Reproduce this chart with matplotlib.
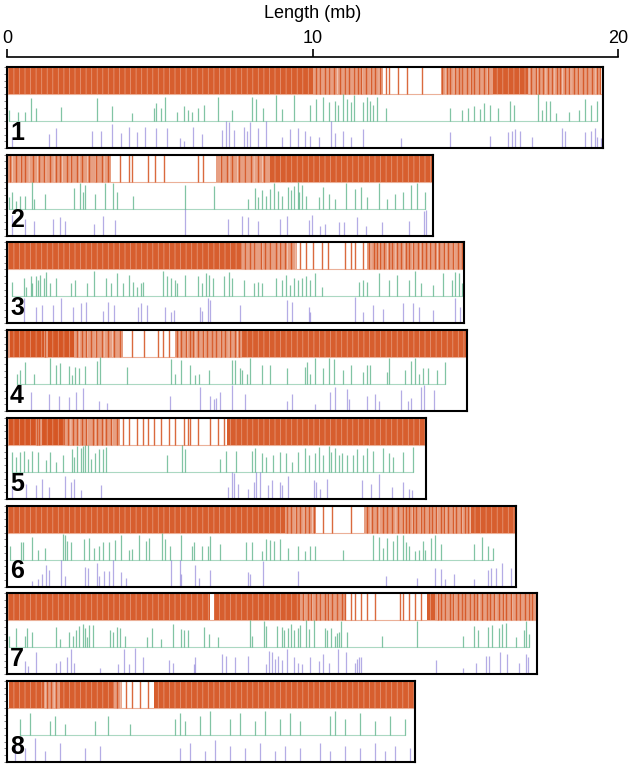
import matplotlib
matplotlib.use('Agg')  # no UI backend

import numpy as np
import matplotlib.pyplot as plt
from matplotlib.colors import to_rgba

plt.rcParams['font.family'] = ['Liberation Sans', 'DejaVu Sans']
plt.rcParams['hatch.linewidth'] = 0.6

chrom_names = ['1', '2', '3', '4', '5', '6', '7', '8']
chrom_lengths = [19.5, 13.95, 14.95, 15.05, 13.7, 16.65, 17.35, 13.35]  # mb

# orange track: dense stretches, lighter stretches (start, end) and single lines, in mb
orange_dense_1 = [(0.0, 10.0), (15.9, 17.05)]
orange_light_1 = [(10.0, 12.3), (14.2, 15.9), (17.05, 19.45)]
orange_lines_1 = [10.1, 10.25, 10.4, 10.55, 10.7, 10.9, 11.05, 11.2, 11.35, 11.5, 11.6, 11.75,
                  11.9, 12.05, 12.2, 12.4, 12.5, 12.8, 13.1, 13.6, 14.25, 14.4, 14.5, 14.65,
                  14.8, 14.9, 15.05, 15.2, 15.3, 15.45, 15.6, 15.75, 17.15, 17.3, 17.4, 17.55,
                  17.7, 17.85, 18.0, 18.1, 18.25, 18.4, 18.55, 18.7, 18.85, 19.0, 19.15, 19.3, 19.4]

orange_dense_2 = [(8.6, 13.95)]
orange_light_2 = [(0.0, 3.4), (6.85, 8.6)]
orange_lines_2 = [0.1, 0.3, 0.45, 0.6, 0.85, 1.05, 1.2, 1.4, 1.6, 1.75, 1.95, 2.1, 2.3, 2.45,
                  2.7, 2.9, 3.1, 3.3, 3.7, 4.0, 4.1, 4.6, 4.85, 5.15, 6.25, 6.4, 7.0, 7.2,
                  7.35, 7.6, 7.8, 8.0, 8.2, 8.4]

orange_dense_3 = [(0.0, 7.7)]
orange_light_3 = [(7.7, 9.5), (11.8, 14.95)]
orange_lines_3 = [7.8, 7.95, 8.1, 8.3, 8.45, 8.6, 8.8, 8.95, 9.1, 9.3, 9.6, 9.8, 10.0, 10.3,
                  10.5, 11.05, 11.25, 11.4, 11.65, 11.85, 12.0, 12.1, 12.2, 12.35, 12.5, 12.6,
                  12.75, 12.9, 13.05, 13.15, 13.3, 13.45, 13.6, 13.7, 13.85, 14.0, 14.15,
                  14.3, 14.45, 14.6, 14.75, 14.9]

orange_dense_4 = [(0.1, 1.2), (1.35, 2.2), (7.7, 15.05)]
orange_light_4 = [(0.0, 3.8), (5.5, 7.7)]
orange_lines_4 = [1.25, 2.3, 2.45, 2.6, 2.75, 2.9, 3.1, 3.3, 3.5, 3.7, 4.1, 4.5, 4.95, 5.1,
                  5.3, 5.55, 5.7, 5.85, 6.0, 6.1, 6.25, 6.4, 6.55, 6.7, 6.85, 7.0, 7.15,
                  7.3, 7.45, 7.6]

orange_dense_5 = [(0.05, 0.95), (1.15, 1.9), (7.2, 13.7)]
orange_light_5 = [(0.0, 3.7)]
orange_lines_5 = [0.98, 1.05, 2.0, 2.15, 2.3, 2.45, 2.6, 2.8, 2.95, 3.1, 3.25, 3.4, 3.6,
                  3.8, 4.0, 4.25, 4.45, 4.6, 4.8, 5.05, 5.3, 5.5, 5.78, 5.91, 5.98, 6.24,
                  6.64, 6.9, 7.1]

orange_dense_6 = [(0.0, 9.1), (15.2, 16.65)]
orange_light_6 = [(9.1, 10.1), (11.7, 15.2)]
orange_lines_6 = [9.15, 9.3, 9.45, 9.6, 9.75, 9.9, 10.05, 10.35, 10.65, 11.25, 11.8, 11.95,
                  12.1, 12.3, 12.45, 12.6, 12.8, 12.95, 13.05, 13.15, 13.3, 13.4, 13.55,
                  13.65, 13.8, 13.9, 14.05, 14.2, 14.3, 14.45, 14.6, 14.7, 14.85, 15.0, 15.1]

orange_dense_7 = [(0.0, 6.65), (6.78, 9.6), (13.75, 14.0)]
orange_light_7 = [(9.6, 11.1), (14.0, 17.3)]
orange_lines_7 = [9.7, 9.85, 9.95, 10.1, 10.25, 10.4, 10.5, 10.65, 10.8, 10.95, 11.05, 11.25,
                  11.4, 11.6, 11.8, 12.05, 12.85, 12.95, 13.15, 13.35, 13.55, 14.1, 14.2,
                  14.35, 14.5, 14.6, 14.75, 14.9, 15.0, 15.15, 15.3, 15.4, 15.55, 15.7, 15.8,
                  15.95, 16.1, 16.25, 16.35, 16.5, 16.65, 16.8, 16.95, 17.1, 17.2]

orange_dense_8 = [(0.05, 1.2), (1.75, 3.5), (4.8, 13.35)]
orange_light_8 = [(1.2, 1.75), (3.5, 3.75)]
orange_lines_8 = [1.3, 1.45, 1.6, 3.6, 3.9, 4.1, 4.35, 4.6]

# green track: (position mb, relative height)
green_1 = [(0.07, .42), (0.37, .35), (0.59, .35), (0.80, .84), (0.94, .48), (1.78, .52),
           (2.94, .84), (3.44, .57), (4.10, .29), (4.82, .5), (4.89, .65), (5.03, .5),
           (5.18, .9), (5.55, .35), (5.78, .55), (5.91, .4), (6.04, .35), (6.24, .5),
           (6.44, .6), (6.90, .9), (7.36, .4), (8.02, .9), (8.15, .8), (8.38, .5), (8.81, .95),
           (9.01, .45), (9.41, .95), (9.93, .6), (10.13, .8), (10.33, .9), (10.53, .7),
           (10.73, .75), (10.83, .6), (10.99, 1.0), (11.12, .8), (11.25, .7), (11.36, .95),
           (11.65, .7), (11.78, .9), (11.89, .75), (11.98, .6), (12.11, .9), (12.41, .5),
           (14.49, .5), (14.88, .4), (15.08, .5), (15.28, .55), (15.47, .45), (15.61, .65),
           (15.80, .6), (16.07, .5), (16.46, .75), (16.60, .6), (17.39, 1.0), (17.52, .4),
           (17.65, .75), (17.78, .75), (17.98, .3), (18.38, .35), (18.71, .4), (18.91, .8),
           (19.10, .6), (19.30, .75)]
green_2 = [(0.07, .42), (0.17, .61), (0.30, .29), (0.41, .48), (0.59, .48), (0.83, 1.0),
           (0.90, .35), (1.25, .55), (2.18, .77), (2.39, .94), (2.48, .61), (2.55, .87),
           (2.88, .55), (3.21, .94), (3.47, .94), (3.60, .61), (4.13, .48), (5.84, .87),
           (6.77, .84), (7.89, .35), (8.11, .77), (8.22, .42), (8.35, .68), (8.48, .48),
           (8.61, .74), (8.75, .94), (8.88, .64), (9.01, .48), (9.21, .81), (9.30, .68),
           (9.41, .84), (9.51, 1.0), (9.56, .61), (9.67, .87), (9.78, .48), (10.20, .42),
           (10.33, .81), (10.53, .55), (10.73, .35), (11.10, .94), (11.39, .74), (11.58, .81),
           (11.78, .42), (12.18, .94), (12.44, .35), (12.70, .55), (12.97, .61), (13.23, .87),
           (13.43, .94), (13.69, .61)]
green_3 = [(0.15, .55), (0.57, .68), (0.63, .35), (0.77, .77), (0.83, .48), (0.94, .74),
           (1.03, .61), (1.09, .81), (1.20, .68), (1.29, .90), (1.42, .48), (1.62, .68),
           (2.08, .48), (2.22, .61), (2.61, .48), (2.84, .94), (3.23, .68), (3.40, .48),
           (3.60, .87), (3.80, .48), (4.00, .81), (4.13, .55), (4.26, .35), (4.39, .48),
           (4.46, .55), (5.12, .94), (5.25, .74), (5.38, .68), (5.51, .61), (5.58, .48),
           (5.84, .81), (6.24, .74), (6.37, .48), (6.50, .87), (6.61, .81), (6.74, .68),
           (7.10, .74), (7.27, .90), (7.36, .68), (7.76, .61), (8.09, .48), (8.22, .55),
           (8.35, .48), (8.81, .68), (9.01, .61), (9.14, .81), (9.27, .42), (9.41, .68),
           (9.54, .61), (9.67, .68), (9.80, .74), (9.93, .61), (10.07, .87), (10.30, .35),
           (11.52, .55), (11.65, .61), (11.78, .55), (12.18, .87), (12.51, .61), (12.77, .81),
           (13.17, .61), (13.36, .94), (13.56, .48), (13.96, .42), (14.26, .87), (14.55, .61),
           (14.66, .90), (14.79, .87), (14.88, .48)]
green_4 = [(0.33, .39), (0.41, .52), (0.59, .81), (0.90, .36), (1.42, .97), (1.62, .71),
           (1.73, .78), (2.04, .68), (2.12, .32), (2.22, .65), (2.35, .58), (2.55, .68),
           (2.94, .84), (3.05, 1.0), (3.93, .65), (5.38, .94), (5.51, .39), (5.69, .91),
           (5.98, .71), (6.17, .32), (6.27, .39), (6.61, .52), (7.36, .88), (7.45, .91),
           (7.63, .58), (7.69, .52), (7.85, .39), (7.96, .97), (8.35, .71), (8.61, .71),
           (9.17, .58), (9.74, .65), (9.83, .81), (9.93, .39), (10.09, .97), (10.33, .58),
           (10.53, .97), (10.70, .94), (10.99, .52), (11.25, .71), (11.65, .45), (11.78, .71),
           (11.89, .71), (12.44, .45), (12.51, .97), (13.03, .52), (13.21, .84), (13.36, .97),
           (13.50, .39), (13.63, .58), (13.79, .58), (14.09, .52), (14.33, .81)]
green_5 = [(0.17, .74), (0.30, .55), (0.44, .74), (0.57, .77), (0.70, .48), (0.83, .77),
           (1.03, .74), (1.29, .42), (1.42, .74), (1.60, .35), (1.82, .61), (2.12, .84),
           (2.18, .55), (2.28, .97), (2.41, .87), (2.48, .94), (2.55, 1.0), (2.65, 1.0),
           (2.74, .48), (2.88, .68), (3.01, .84), (3.14, .84), (3.23, .90), (5.25, .64),
           (5.74, 1.0), (5.82, .84), (6.97, .48), (7.16, .77), (7.49, .77), (8.02, .77),
           (8.11, .87), (8.35, .68), (8.48, .55), (8.72, .61), (8.94, .74), (9.14, .68),
           (9.34, .35), (9.54, .74), (9.74, .87), (9.87, .61), (10.07, .68), (10.20, .90),
           (10.33, .61), (10.53, .96), (10.62, .74), (10.73, .87), (10.86, .61), (10.96, .68),
           (11.12, .61), (11.32, .64), (11.45, .84), (11.65, .61), (11.78, .87), (11.98, .77),
           (12.31, .87), (12.51, .68), (12.64, .55), (12.97, .74), (13.30, .90)]
green_6 = [(0.11, .50), (0.46, .63), (0.54, .63), (0.83, .83), (1.03, .37), (1.23, .43),
           (1.82, .96), (1.89, .89), (1.95, .70), (2.08, .63), (2.52, .76), (2.70, .79),
           (2.84, .43), (3.01, .50), (3.14, .63), (3.34, .63), (3.54, .74), (3.73, .89),
           (4.00, .37), (4.10, .39), (4.33, .92), (4.55, .70), (4.66, .79), (5.08, 1.0),
           (5.18, .76), (5.32, .50), (5.71, .89), (6.04, .50), (6.11, .63), (6.37, .50),
           (6.57, .50), (6.64, .87), (6.97, .57), (7.82, .63), (8.02, .66), (8.35, .30),
           (8.48, .76), (8.61, .74), (8.75, .70), (8.94, .76), (9.21, .43), (9.54, .50),
           (9.74, .30), (9.93, .50), (10.07, .50), (10.99, .34), (11.98, .89), (12.18, .83),
           (12.31, .43), (12.44, .79), (12.64, .70), (12.77, .89), (12.97, .92), (13.07, .63),
           (13.17, .50), (13.34, .30), (13.50, .37), (13.63, .70), (13.69, .37), (13.89, .79),
           (14.00, .89), (14.22, .57), (15.28, .57), (15.54, .83), (15.74, .50), (15.90, .43)]
green_7 = [(0.07, .43), (0.30, .70), (0.59, .43), (0.67, .70), (0.83, .57), (1.62, .76),
           (1.75, .30), (2.04, .57), (2.15, .43), (2.26, .63), (2.35, .79), (2.48, .87),
           (2.55, .70), (2.61, .37), (2.70, .83), (2.81, .83), (3.36, .63), (3.47, .57),
           (3.60, .76), (3.71, .70), (3.87, .43), (4.59, .37), (4.76, .70), (5.05, .30),
           (5.42, .87), (5.69, .66), (5.78, .63), (5.91, .63), (6.44, .76), (6.61, .50),
           (6.90, .37), (7.96, 1.0), (8.02, .43), (8.42, .96), (8.48, .79), (8.85, .79),
           (9.01, .76), (9.08, .63), (9.21, .70), (9.30, .87), (9.41, .63), (9.51, .70),
           (9.60, .83), (9.80, 1.0), (9.87, .66), (10.04, 1.0), (10.40, .70), (10.49, .63),
           (10.62, .70), (10.73, .43), (10.79, .53), (10.86, .57), (10.92, .96), (11.12, .57),
           (12.28, .43), (13.43, .96), (14.92, .43), (15.28, .79), (15.41, .63), (15.74, .76),
           (15.87, .83), (16.11, .70), (16.20, .87), (16.33, .89), (16.66, .37), (16.93, .63),
           (16.99, .96), (17.08, .50)]
green_8 = [(0.43, .6), (0.75, .8), (1.41, .5), (1.57, .7), (1.90, .4), (2.88, .5), (3.31, .7),
           (4.03, .4), (5.50, .6), (5.66, .8), (5.83, .5), (6.32, .7), (6.64, .9), (7.30, .6),
           (7.63, .8), (8.12, .5), (8.45, .9), (8.94, .6), (9.26, .8), (9.59, .5), (10.57, .7),
           (10.74, .9), (11.06, .6), (11.55, .8), (12.05, .5), (12.54, .7), (13.03, .6)]

# purple track: (position mb, relative height)
purple_1 = [(0.17, .42), (1.36, .51), (1.60, .74), (2.78, .64), (3.07, .64), (3.44, .90),
            (3.73, .55), (4.00, .77), (4.27, .59), (4.53, .77), (4.89, .74), (5.25, .74),
            (5.65, .36), (5.78, .26), (6.08, .77), (6.37, .51), (7.03, .68), (7.16, 1.0),
            (7.27, .97), (7.43, .68), (7.76, .77), (7.85, .64), (7.96, .96), (8.22, .74),
            (8.48, 1.0), (9.01, .42), (9.27, .72), (9.54, .74), (9.74, .64), (9.93, .46),
            (10.20, .42), (10.59, 1.0), (10.73, .55), (10.99, .64), (11.25, .42), (11.65, .72),
            (12.90, .38), (14.49, .59), (15.80, .46), (16.40, .59), (16.53, .62), (16.64, .72),
            (16.79, .64), (17.19, .42), (18.18, .74), (18.25, .62), (18.91, .59), (19.10, .62),
            (19.24, .74), (19.30, .42), (19.43, .38)]
purple_2 = [(0.17, .77), (0.59, .62), (0.90, .55), (1.52, .62), (1.73, .68), (1.89, .55),
            (2.84, .42), (3.14, .74), (3.54, .59), (5.84, 1.0), (7.23, .62), (7.70, .74),
            (7.89, .68), (8.22, .55), (8.94, .62), (9.18, .74), (9.87, .59), (9.97, .77),
            (10.26, .36), (10.40, .42), (10.86, .51), (11.02, .49), (11.45, .68), (11.75, .36),
            (12.28, .49), (13.17, .55), (13.65, .90), (13.72, .94)]
purple_3 = [(0.57, .94), (0.96, .62), (1.16, .68), (1.49, .68), (1.78, .94), (2.15, .59),
            (2.41, .77), (2.57, .81), (3.14, .46), (3.31, .81), (3.50, .68), (4.30, .62),
            (4.37, .74), (4.59, .68), (5.18, .62), (5.38, .42), (5.47, .49), (6.31, .62),
            (6.37, .46), (6.57, .94), (6.64, .87), (7.63, .68), (9.17, .87), (9.34, .81),
            (9.87, .59), (9.93, .42), (11.39, .96), (11.65, .42), (11.98, .68), (12.31, .55),
            (12.97, .77), (13.30, .74), (13.50, .62), (13.96, .49), (14.68, .94), (14.82, .62)]
purple_4 = [(0.77, .71), (1.36, .65), (1.69, .55), (2.02, .52), (2.26, .71), (2.48, .84),
            (3.01, .36), (3.27, .29), (5.32, .55), (6.31, .91), (6.64, .55), (6.77, .45),
            (6.83, .49), (6.97, .71), (7.36, .97), (7.80, .62), (9.17, .39), (9.34, .65),
            (10.09, .26), (10.57, .71), (10.75, .91), (11.12, .82), (11.19, .45), (11.78, .55),
            (12.04, .65), (12.18, .36), (12.90, .78), (13.13, .39), (13.23, .49), (13.56, .91),
            (13.65, .97), (13.99, .78)]
purple_5 = [(0.17, .42), (0.63, .55), (0.96, .51), (1.16, .74), (1.39, .42), (1.89, .83),
            (2.08, .62), (2.18, .74), (2.41, .33), (3.07, .51), (7.23, .42), (7.36, 1.0),
            (7.43, .94), (7.56, .55), (7.89, .38), (8.09, .62), (8.15, 1.0), (8.28, 1.0),
            (8.55, .51), (8.68, .68), (8.94, .62), (9.01, .51), (9.21, .83), (10.04, .68),
            (10.13, .62), (10.26, .36), (10.46, .74), (11.62, .68), (11.91, .55), (12.18, .90),
            (12.60, .42), (12.97, .62), (13.17, .36), (13.26, .33)]
purple_6 = [(0.83, .20), (1.03, .27), (1.16, .47), (1.29, .80), (1.36, .60), (1.78, 1.0),
            (1.89, .40), (2.55, .73), (2.65, .67), (2.94, .87), (3.01, .40), (3.18, .56),
            (3.34, .56), (3.47, 1.0), (3.73, .53), (3.91, .33), (5.38, 1.0), (5.65, 1.0),
            (5.71, .47), (6.17, .80), (6.27, .33), (6.64, .60), (7.89, .53), (7.96, .47),
            (8.38, .96), (9.54, .56), (12.41, .40), (13.43, .33), (14.00, .67), (14.22, .64),
            (14.35, .29), (14.62, .47), (15.28, .27), (15.74, .60), (15.84, .67), (16.00, .69),
            (16.20, .87), (16.50, .67)]
purple_7 = [(0.59, .49), (0.70, .29), (0.96, .81), (1.60, .42), (1.75, .49), (1.95, .62),
            (2.08, .94), (2.18, .42), (3.05, .23), (3.63, .36), (3.84, .94), (4.00, .36),
            (4.20, .97), (4.46, .62), (5.29, .51), (5.42, .42), (6.11, .36), (6.17, .62),
            (7.03, .74), (7.16, .68), (7.45, .62), (7.89, .68), (8.48, .36), (8.59, .87),
            (8.68, .81), (8.77, .55), (8.88, .68), (9.01, .51), (9.17, .94), (9.41, .62),
            (9.54, .42), (9.67, .38), (9.93, .64), (10.20, .49), (10.33, .74), (10.53, .42),
            (10.83, .94), (11.10, .81), (11.39, .42), (11.45, .55), (11.52, .62), (11.58, .64),
            (14.05, .51), (14.92, .23), (15.34, .42), (15.67, .68), (15.77, .68), (16.13, .81),
            (16.37, .74), (16.77, .42), (16.99, .74), (17.06, .62)]
purple_8 = [(0.26, .6), (0.59, .5), (0.92, .9), (1.24, .4), (1.73, .7), (2.55, .5), (3.04, .6),
            (5.66, .5), (5.99, .7), (6.48, .4), (6.81, .8), (7.30, .6), (7.79, .5), (8.28, .7),
            (8.77, .4), (9.10, .6), (9.59, .5), (10.25, .7), (10.57, .4), (11.06, .6),
            (11.55, .5), (12.05, .7), (12.37, .4), (12.70, .6), (13.19, .5)]

orange_dense = [orange_dense_1, orange_dense_2, orange_dense_3, orange_dense_4,
                orange_dense_5, orange_dense_6, orange_dense_7, orange_dense_8]
orange_light = [orange_light_1, orange_light_2, orange_light_3, orange_light_4,
                orange_light_5, orange_light_6, orange_light_7, orange_light_8]
orange_lines = [orange_lines_1, orange_lines_2, orange_lines_3, orange_lines_4,
                orange_lines_5, orange_lines_6, orange_lines_7, orange_lines_8]
greens = [green_1, green_2, green_3, green_4, green_5, green_6, green_7, green_8]
purples = [purple_1, purple_2, purple_3, purple_4, purple_5, purple_6, purple_7, purple_8]

ORANGE = '#D4501C'
GREEN = '#2E9E68'
PURPLE = '#6A5ACD'

W, H = 633, 764
fig = plt.figure(figsize=(W / 100, H / 100), dpi=100)

x0 = 7            # px of 0 mb
full_w = 611      # px for 20 mb
box_h = 81
first_top = 67
step = 87.7

# scale axis on top
ax_top = fig.add_axes([x0 / W, 1 - 57 / H - 0.001, full_w / W, 0.001])
ax_top.set_xlim(0, 20)
ax_top.set_xticks([0, 10, 20])
ax_top.xaxis.tick_top()
ax_top.xaxis.set_label_position('top')
ax_top.tick_params(axis='x', direction='out', length=5.5, width=1.2, labelsize=13, pad=2)
ax_top.set_yticks([])
for side in ['left', 'right', 'bottom']:
    ax_top.spines[side].set_visible(False)
ax_top.spines['top'].set_linewidth(1.2)
ax_top.set_xlabel('Length (mb)', fontsize=13, labelpad=8)

for i, name in enumerate(chrom_names):
    L = chrom_lengths[i]
    top = first_top + step * i
    ax = fig.add_axes([x0 / W, 1 - (top + box_h) / H, L * full_w / 20 / W, box_h / H])
    ax.set_xlim(0, L)
    ax.set_ylim(0, 3)

    # orange track (y 2..3)
    for s, e in orange_light[i]:
        ax.bar(s, 1, width=e - s, bottom=2, align='edge', facecolor=to_rgba(ORANGE, 0.55),
               edgecolor=(1, 1, 1, 0.45), hatch='||', linewidth=0)
    for s, e in orange_dense[i]:
        ax.bar(s, 1, width=e - s, bottom=2, align='edge', facecolor=to_rgba(ORANGE, 0.92),
               edgecolor=(1, 1, 1, 0.35), hatch='|||', linewidth=0)
    ax.vlines(orange_lines[i], 2, 3, color=ORANGE, lw=1.0, alpha=0.85)
    ax.plot([0, L], [2, 2], color=ORANGE, lw=0.8, alpha=0.45)

    # green track (y 1..2)
    gx = [p for p, h in greens[i]]
    gh = [1 + h for p, h in greens[i]]
    ax.plot([gx[0], gx[-1]], [1, 1], color=GREEN, lw=0.8, alpha=0.4)
    ax.vlines(gx, 1, gh, color=GREEN, lw=0.9, alpha=0.6)

    # purple track (y 0..1)
    px = [p for p, h in purples[i]]
    ph = [h for p, h in purples[i]]
    ax.vlines(px, 0, ph, color=PURPLE, lw=0.9, alpha=0.5)

    ax.set_xticks([])
    ax.set_yticks(np.arange(0, 3.01, 0.25))
    ax.tick_params(axis='y', direction='out', length=2.5, width=0.7, color='#808080',
                   labelleft=False)
    for sp in ax.spines.values():
        sp.set_linewidth(1.5)
    ax.text(0.1, 0.12, name, fontsize=18, fontweight='bold', ha='left', va='bottom')

plt.savefig('out.png', dpi=100)
